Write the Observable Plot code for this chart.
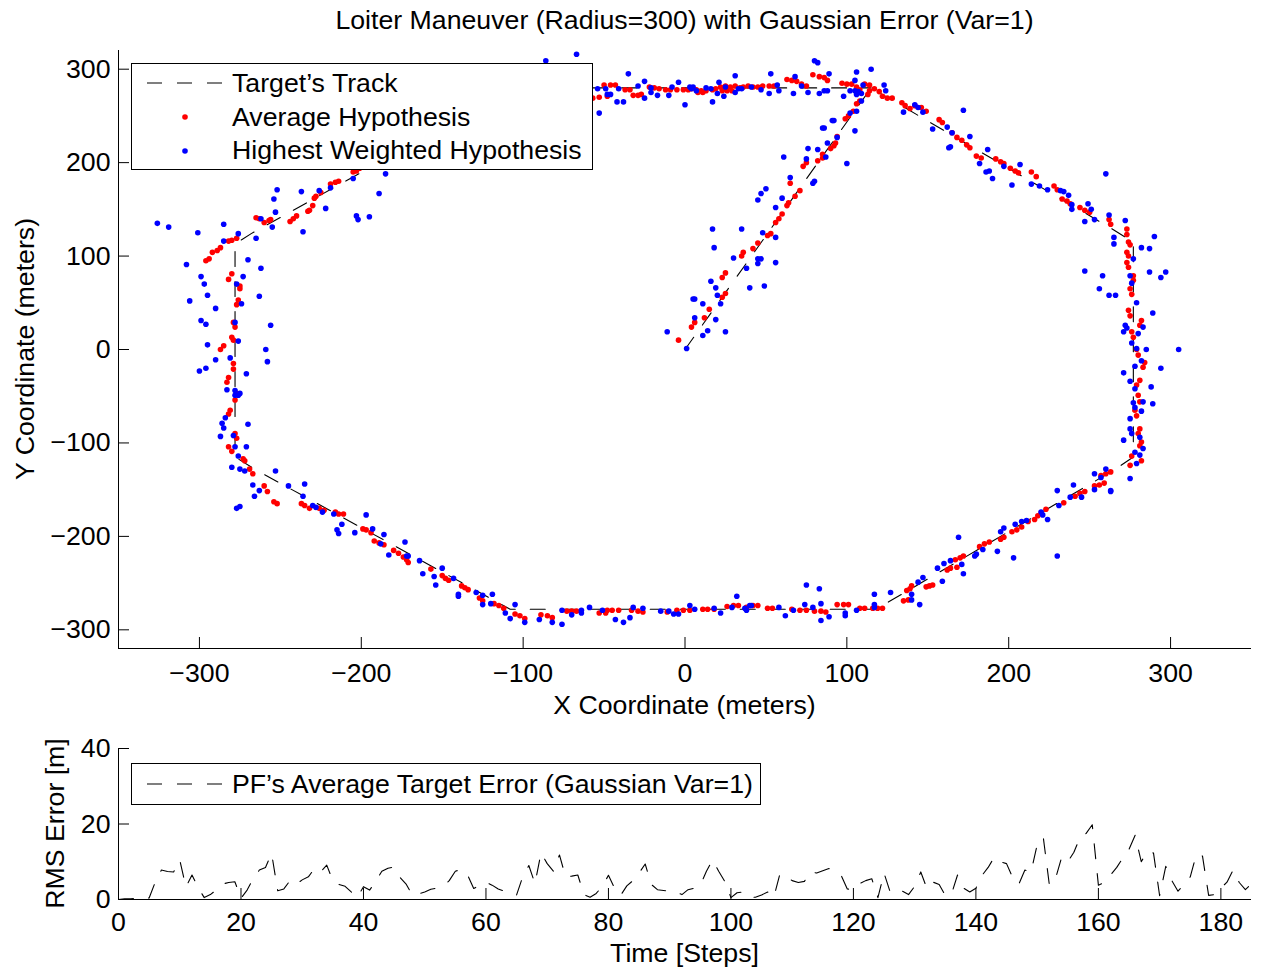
<!DOCTYPE html>
<html><head><meta charset="utf-8">
<script src="https://cdn.jsdelivr.net/npm/d3@7"></script>
<script src="https://cdn.jsdelivr.net/npm/@observablehq/plot@0.6"></script>
<style>
body{margin:0;background:#fff;}
#wrap{position:relative;width:1261px;height:970px;}
#wrap svg{position:absolute;left:0;}
</style></head><body><div id="wrap"></div>
<script>
// ---------- DATA ----------
const trackPath = [[0,0],[115,280],[262,131],[277,115],[277,-115],[266,-128],[118,-278],[-108,-278],[-266,-128],[-278,-115],[-278,113],[-268,124],[-106,280],[115,280]];

const avgHyp = [
[-4,10],[4,24],[6,29],[12,34],[15,43],[23,56],[25,60],[23,77],[25,82],[35,100],[36,104],[42,108],[45,114],[51,122],[53,124],[56,136],[58,140],[60,145],[63,154],[64,157],[68,164],[71,170],[65,178],[73,196],[75,200],[82,202],[85,205],[85,209],[90,215],[92,218],[93,221],[94,228],[99,247],[101,250],[104,255],[106,263],[108,266],[113,273],[114,277],
[-57,269],[-53,270],[-50,283],[-46,283],[-43,283],[-48,271],[-37,278],[-34,278],[-32,272],[-29,272],[-27,273],[-22,281],[-19,280],[-16,279],[-12,278],[-9,278],[-5,278],[-1,278],[2,278],[4,279],[7,278],[10,277],[13,277],[8,275],[11,275],[17,278],[19,279],[22,281],[25,282],[28,281],[31,282],[23,277],[26,277],[29,277],[34,280],[36,281],[39,282],[42,281],[45,281],[48,282],[52,282],[55,282],[63,289],[66,288],[69,287],[72,284],[75,282],[79,294],[83,292],[86,291],[88,288],[97,285],[100,284],[103,284],[106,281],[108,278],[111,284],[114,283],[117,279],[120,276],[122,271],[125,269],
[128,269],[134,264],[136,261],[139,258],[142,261],[146,259],[149,255],[157,246],[159,243],[165,232],[168,227],[171,224],[174,219],[176,216],[180,207],[183,205],[192,204],[195,201],[197,199],[201,194],[204,191],[206,189],[214,190],[217,185],[228,175],[230,171],[233,161],[236,159],[238,156],[244,152],[247,149],[250,147],[262,139],[263,134],
[273,129],[273,123],[274,115],[275,112],[273,104],[274,100],[273,93],[274,88],[277,79],[277,74],[275,65],[276,59],[274,42],[275,36],[282,31],[281,26],[276,19],[277,13],[279,0],[280,-6],[284,-14],[283,-19],[281,-33],[279,-38],[280,-49],[281,-56],[278,-65],[279,-71],[281,-85],[280,-90],[282,-99],[281,-103],[276,-114],[275,-124],[282,-119],
[263,-131],[260,-133],[257,-135],[259,-143],[256,-145],[253,-146],[247,-152],[244,-154],[241,-157],[234,-164],[223,-171],[220,-175],[218,-178],[216,-182],[212,-184],[208,-190],[205,-193],[202,-195],[197,-201],[195,-203],[188,-206],[185,-208],[182,-211],[172,-221],[170,-223],[167,-225],[168,-233],[164,-234],[162,-236],[153,-252],[151,-253],[149,-254],[140,-253],[139,-256],[137,-258],[135,-269],[138,-268],[122,-277],[119,-277],[116,-277],[111,-277],
[108,-277],[101,-273],[98,-273],[94,-273],[87,-281],[84,-280],[80,-280],[75,-279],[71,-279],[66,-278],[54,-277],[51,-277],[45,-274],[42,-274],[38,-276],[33,-274],[30,-274],[26,-275],[18,-278],[14,-278],[11,-278],[3,-279],[-1,-279],[-5,-279],[-11,-281],[-26,-281],[-29,-280],[-33,-279],[-41,-279],[-45,-279],[-48,-279],[-49,-282],[-53,-282],[-67,-280],[-70,-280],[-73,-280],[-82,-287],[-85,-285],[-89,-284],[-99,-288],[-102,-285],[-105,-283],[-112,-277],[-115,-274],[-118,-272],
[-125,-269],[-127,-266],[-134,-257],[-136,-255],[-138,-253],[-146,-247],[-148,-245],[-150,-242],[-157,-235],[-171,-228],[-172,-225],[-174,-222],[-177,-218],[-180,-215],[-186,-209],[-189,-207],[-192,-205],[-194,-196],[-197,-193],[-199,-192],[-211,-176],[-214,-176],[-216,-174],[-223,-172],[-226,-170],[-232,-170],[-235,-167],[-237,-165],[-252,-165],[-254,-163],[-258,-152],[-260,-146],[-267,-133],[-269,-128],[-272,-119],[-273,-117],
[-280,-109],[-282,-104],[-277,-95],[-278,-90],[-281,-65],[-282,-69],[-278,-54],[-277,-47],[-282,-30],[-283,-35],[-279,-21],[-279,-15],[-285,4],[-287,0],[-279,10],[-280,13],[-278,24],[-279,29],[-276,53],[-277,48],[-275,68],[-275,65],[-280,81],[-282,75],
[-296,95],[-294,97],[-292,104],[-289,106],[-287,109],[-282,116],[-280,117],[-277,119],[-265,141],[-263,140],[-260,136],[-257,138],[-256,139],[-244,137],[-242,140],[-240,143],[-233,148],[-232,149],[-230,154],[-229,162],[-228,164],[-225,168],[-219,177],[-216,179],[-214,180],[-205,190],[-203,191],[-201,194]
];

const bestHyp = [
[1,1],[-11,19],[11,15],[14,20],[25,19],[6,34],[19,32],[5,54],[6,54],[11,49],[16,73],[19,66],[20,58],[22,49],[30,98],[17,129],[18,109],[35,129],[38,87],[40,66],[45,97],[47,97],[45,92],[49,68],[48,125],[56,120],[56,93],[45,160],[47,167],[50,172],[56,152],[60,162],[61,206],[65,184],[75,204],[76,215],[79,178],[80,180],[82,214],[85,237],[87,206],[88,221],[92,245],[94,227],[100,199],[105,234],[102,253],[106,255],
[-86,309],[-67,316],[-53,253],[-54,279],[-49,279],[-48,273],[-46,273],[-41,279],[-42,265],[-38,265],[-35,295],[-29,282],[-25,287],[-25,269],[-21,280],[-21,275],[-17,272],[-10,272],[-8,281],[-4,286],[0,262],[3,281],[4,279],[5,281],[7,277],[13,280],[16,279],[17,265],[20,274],[21,286],[24,271],[25,281],[31,293],[31,275],[33,279],[35,279],[41,281],[47,278],[52,274],[53,295],[57,283],[58,277],[67,274],[68,292],[72,282],[76,275],[80,309],[82,307],[83,274],[86,277],[88,277],[89,295],[86,237],[91,245],[98,271],[105,288],[106,297],[102,277],[105,277],[107,276],[109,274],[106,273],[110,283],[115,300],[123,283],[124,277],[109,266],
[135,254],[142,262],[144,259],[147,254],[172,256],[153,236],[162,238],[165,232],[163,216],[164,217],[176,228],[187,214],[182,199],[186,190],[188,191],[190,183],[197,196],[207,198],[202,176],[214,177],[219,175],[224,171],[232,170],[234,169],[237,165],[239,155],[239,150],[249,156],[251,150],[247,137],[253,139],[260,188],[262,144],[272,138],
[265,120],[265,113],[290,121],[282,109],[287,108],[277,97],[247,84],[258,79],[256,65],[262,58],[266,58],[275,79],[276,71],[287,83],[297,83],[294,77],[279,50],[289,39],[272,26],[273,23],[271,19],[280,17],[283,24],[276,7],[279,1],[285,0],[282,-12],[278,-18],[305,0],[294,-20],[271,-25],[275,-34],[278,-42],[288,-40],[277,-57],[283,-56],[278,-62],[289,-58],[282,-66],[275,-74],[275,-85],[276,-90],[271,-97],[281,-94],[283,-106],[278,-110],[281,-113],[279,-122],[275,-138],
[260,-128],[257,-137],[253,-133],[253,-150],[263,-152],[263,-151],[240,-145],[238,-158],[245,-158],[230,-151],[231,-167],[230,-221],[220,-174],[221,-177],[224,-182],[208,-184],[211,-183],[204,-187],[203,-223],[197,-191],[195,-195],[193,-216],[184,-214],[180,-219],[179,-221],[169,-201],[171,-230],[172,-240],[164,-226],[160,-229],[156,-234],[159,-248],[147,-244],[144,-249],[140,-262],[140,-268],[145,-273],[127,-260],[117,-262],[117,-273],[117,-276],
[-59,-276],[-51,-279],[-43,-289],[-38,-292],[-34,-287],[-32,-276],[-26,-277],[-15,-280],[-10,-280],[-7,-283],[-4,-283],[3,-274],[6,-278],[18,-277],[22,-282],[29,-276],[32,-264],[37,-277],[38,-279],[40,-274],[41,-274],[58,-276],[62,-285],[67,-279],[74,-273],[75,-252],[79,-276],[83,-256],[84,-272],[84,-290],[89,-286],[99,-282],[99,-285],[106,-279],
[-70,-284],[-64,-279],[-64,-282],[-76,-294],[-76,-279],[-82,-292],[-90,-289],[-99,-292],[-105,-273],[-108,-288],[-111,-282],[-119,-262],[-120,-272],[-125,-263],[-125,-273],[-129,-260],[-140,-262],[-140,-264],[-143,-245],[-150,-234],[-154,-252],[-155,-243],[-162,-240],[-164,-226],[-171,-221],[-172,-221],[-173,-206],[-183,-220],[-186,-198],[-188,-208],[-193,-192],[-197,-177],[-204,-196],[-212,-187],[-214,-197],[-215,-193],[-217,-176],[-224,-174],[-228,-169],[-230,-167],[-236,-157],[-235,-144],[-245,-146],[-253,-130],[-263,-151],[-266,-157],[-267,-145],[-275,-168],[-277,-170],
[-272,-130],[-275,-128],[-280,-126],[-271,-104],[-276,-114],[-278,-104],[-284,-73],[-286,-79],[-285,-84],[-287,-93],[-279,-92],[-270,-80],[-283,-43],[-278,-44],[-275,-47],[-276,-49],[-278,-49],[-271,-26],[-295,5],[-290,-11],[-296,-20],[-300,-23],[-276,9],[-281,-9],[-259,0],[-258,-13],[-270,96],[-262,87],[-273,78],[-277,70],[-274,49],[-263,57],[-278,29],[-256,26],[-308,91],[-299,78],[-297,70],[-295,58],[-306,52],[-290,44],[-299,31],[-296,27],
[-326,135],[-319,131],[-301,125],[-285,134],[-276,124],[-285,116],[-265,119],[-262,140],[-255,131],[-253,147],[-254,161],[-252,171],[-237,169],[-236,126],[-226,170],[-222,151],[-219,173],[-205,183],[-203,143],[-202,139],[-195,142],[-189,167],[-185,188]
];

// RMS error per time step (0..185)
const errorRms = [0,0.2,0.2,0.3,0.3,0.4,4.6,7.8,7.4,7.3,10.5,3.3,6.5,3.2,0.5,1.3,2.6,4.1,4.5,4.7,
0.3,2.5,5.5,7.8,8.5,12.2,2.3,2.8,5.0,4.0,5.2,6.0,8.2,7.3,9.1,5.0,4.0,3.5,2.0,0.6,
3.4,2.5,4.8,7.5,8.3,8.6,5.8,4.0,1.1,1.5,2.0,2.7,3.0,3.5,5.0,7.5,8.0,6.5,2.9,3.8,
4.6,3.8,2.8,2.2,1.6,1.2,6.0,9.0,4.2,12.4,9.5,7.5,11.8,6.0,6.2,6.5,1.3,0.6,1.6,3.5,
6.4,3.0,1.1,3.6,5.0,7.0,9.4,4.0,2.6,2.4,2.2,2.0,1.3,2.6,3.0,3.8,7.5,10.5,7.5,4.8,
0.5,1.8,2.0,0.6,0.6,1.2,2.0,0.6,6.8,6.0,5.0,4.5,4.8,7.4,7.0,7.6,8.2,7.6,6.4,2.8,
2.6,4.2,5.0,5.5,0.5,7.0,2.0,1.5,2.2,1.3,3.5,7.3,2.9,4.6,4.0,1.1,1.4,6.5,3.0,2.0,
3.0,6.4,8.5,11.2,10.0,9.5,5.8,4.0,7.8,7.2,14.5,16.5,3.8,5.5,11.2,10.0,12.5,16.5,17.5,19.8,
3.8,4.5,6.5,8.5,11.0,13.3,17.0,10.0,12.8,12.3,1.0,8.8,5.0,2.2,4.0,6.0,12.0,11.5,1.1,1.3,
3.0,4.6,7.8,4.5,2.6,4.2];

const xTicksTop = [-300,-200,-100,0,100,200,300];
const yTicksTop = [-300,-200,-100,0,100,200,300];
const xTicksBottom = [0,20,40,60,80,100,120,140,160,180];
const yTicksBottom = [0,20,40];

const titleText = "Loiter Maneuver (Radius=300) with Gaussian Error (Var=1)";
const xLabelTop = "X Coordinate (meters)";
const yLabelTop = "Y Coordinate (meters)";
const legendTop = ["Target\u2019s Track","Average Hypothesis","Highest Weighted Hypothesis"];
const xLabelBottom = "Time [Steps]";
const yLabelBottom = "RMS Error [m]";
const legendBottom = "PF\u2019s Average Target Error (Gaussian Var=1)";

// ---------- LAYOUT ----------
const W = 1261;
const FONT = '"Liberation Sans", Arial, Helvetica, sans-serif';
const FS = 26.7;
const DASH = "15,15";
const H1 = 720, M1 = {top:50, right:10, bottom:72, left:118};
const FW1 = W - M1.left - M1.right, FH1 = H1 - M1.top - M1.bottom;
const H2 = 250, M2 = {top:28, right:10, bottom:71, left:118};
const FW2 = W - M2.left - M2.right, FH2 = H2 - M2.top - M2.bottom;

const p1 = Plot.plot({
  width: W, height: H1,
  marginTop: M1.top, marginRight: M1.right, marginBottom: M1.bottom, marginLeft: M1.left,
  style: {fontFamily: FONT, fontSize: FS + "px", background: "white", color: "black", overflow: "visible"},
  x: {domain: [-350, 350]},
  y: {domain: [-320, 320]},
  marks: [
    Plot.line(trackPath, {x: d => d[0], y: d => d[1], stroke: "black", strokeWidth: 1.1, strokeDasharray: DASH}),
    Plot.dot(avgHyp, {x: d => d[0], y: d => d[1], r: 2.8, fill: "#ff0000"}),
    Plot.dot(bestHyp, {x: d => d[0], y: d => d[1], r: 2.8, fill: "#0000ff"}),
    Plot.ruleX([-350], {stroke: "black", strokeWidth: 1}),
    Plot.ruleY([-320], {stroke: "black", strokeWidth: 1}),
    Plot.tickY(yTicksTop, {y: d => d, insetRight: FW1 - 11, stroke: "black"}),
    Plot.tickX(xTicksTop, {x: d => d, insetTop: FH1 - 11, stroke: "black"}),
    Plot.axisX(xTicksTop, {tickSize: 0, tickPadding: 15, label: null, fontSize: FS}),
    Plot.axisY(yTicksTop, {tickSize: 0, tickPadding: 8, label: null, fontSize: FS})
  ]
});

const p2 = Plot.plot({
  width: W, height: H2,
  marginTop: M2.top, marginRight: M2.right, marginBottom: M2.bottom, marginLeft: M2.left,
  style: {fontFamily: FONT, fontSize: FS + "px", background: "white", color: "black", overflow: "visible"},
  x: {domain: [0, 185]},
  y: {domain: [0, 40]},
  marks: [
    Plot.line(errorRms, {x: (d, i) => i, y: d => d, stroke: "black", strokeWidth: 1.1, strokeDasharray: DASH}),
    Plot.ruleX([0], {stroke: "black", strokeWidth: 1}),
    Plot.ruleY([0], {stroke: "black", strokeWidth: 1}),
    Plot.tickY(yTicksBottom, {y: d => d, insetRight: FW2 - 11, stroke: "black"}),
    Plot.tickX(xTicksBottom, {x: d => d, insetTop: FH2 - 11, stroke: "black"}),
    Plot.axisX(xTicksBottom, {tickSize: 0, tickPadding: 13, label: null, fontSize: FS}),
    Plot.axisY(yTicksBottom, {tickSize: 0, tickPadding: 8, label: null, fontSize: FS})
  ]
});

const wrap = document.getElementById("wrap");
p1.style.top = "0px";
p2.style.top = H1 + "px";
wrap.appendChild(p1);
wrap.appendChild(p2);

function addText(svg, txt, x, y, opts = {}) {
  const t = d3.select(svg).append("text")
    .attr("x", x).attr("y", y)
    .attr("font-family", FONT).attr("font-size", opts.size || FS)
    .attr("fill", "black")
    .attr("text-anchor", opts.anchor || "start")
    .text(txt);
  if (opts.rotate) t.attr("transform", `rotate(-90 ${x} ${y})`);
  return t;
}

// Top chart decorations
const cx1 = M1.left + FW1 / 2;
addText(p1, titleText, cx1, 29, {anchor: "middle"});
addText(p1, xLabelTop, cx1, 714, {anchor: "middle"});
addText(p1, yLabelTop, 34, M1.top + FH1 / 2, {anchor: "middle", rotate: true});

const g1 = d3.select(p1).append("g");
g1.append("rect").attr("x", 131.5).attr("y", 63.5).attr("width", 461).attr("height", 106)
  .attr("fill", "white").attr("stroke", "black").attr("stroke-width", 1);
g1.append("line").attr("x1", 147).attr("x2", 223).attr("y1", 83).attr("y2", 83)
  .attr("stroke", "black").attr("stroke-width", 1.1).attr("stroke-dasharray", DASH);
g1.append("circle").attr("cx", 185).attr("cy", 117).attr("r", 2.8).attr("fill", "#ff0000");
g1.append("circle").attr("cx", 185).attr("cy", 151).attr("r", 2.8).attr("fill", "#0000ff");
[83, 117, 150].forEach((y, i) => addText(p1, legendTop[i], 232, y + 9));

// Bottom chart decorations
addText(p2, xLabelBottom, cx1, 242, {anchor: "middle"});
addText(p2, yLabelBottom, 64, M2.top + FH2 / 2, {anchor: "middle", rotate: true});
const g2 = d3.select(p2).append("g");
g2.append("rect").attr("x", 131.5).attr("y", 43.5).attr("width", 629).attr("height", 41)
  .attr("fill", "white").attr("stroke", "black").attr("stroke-width", 1);
g2.append("line").attr("x1", 147).attr("x2", 223).attr("y1", 64).attr("y2", 64)
  .attr("stroke", "black").attr("stroke-width", 1.1).attr("stroke-dasharray", DASH);
addText(p2, legendBottom, 232, 73);
</script>
</body></html>
